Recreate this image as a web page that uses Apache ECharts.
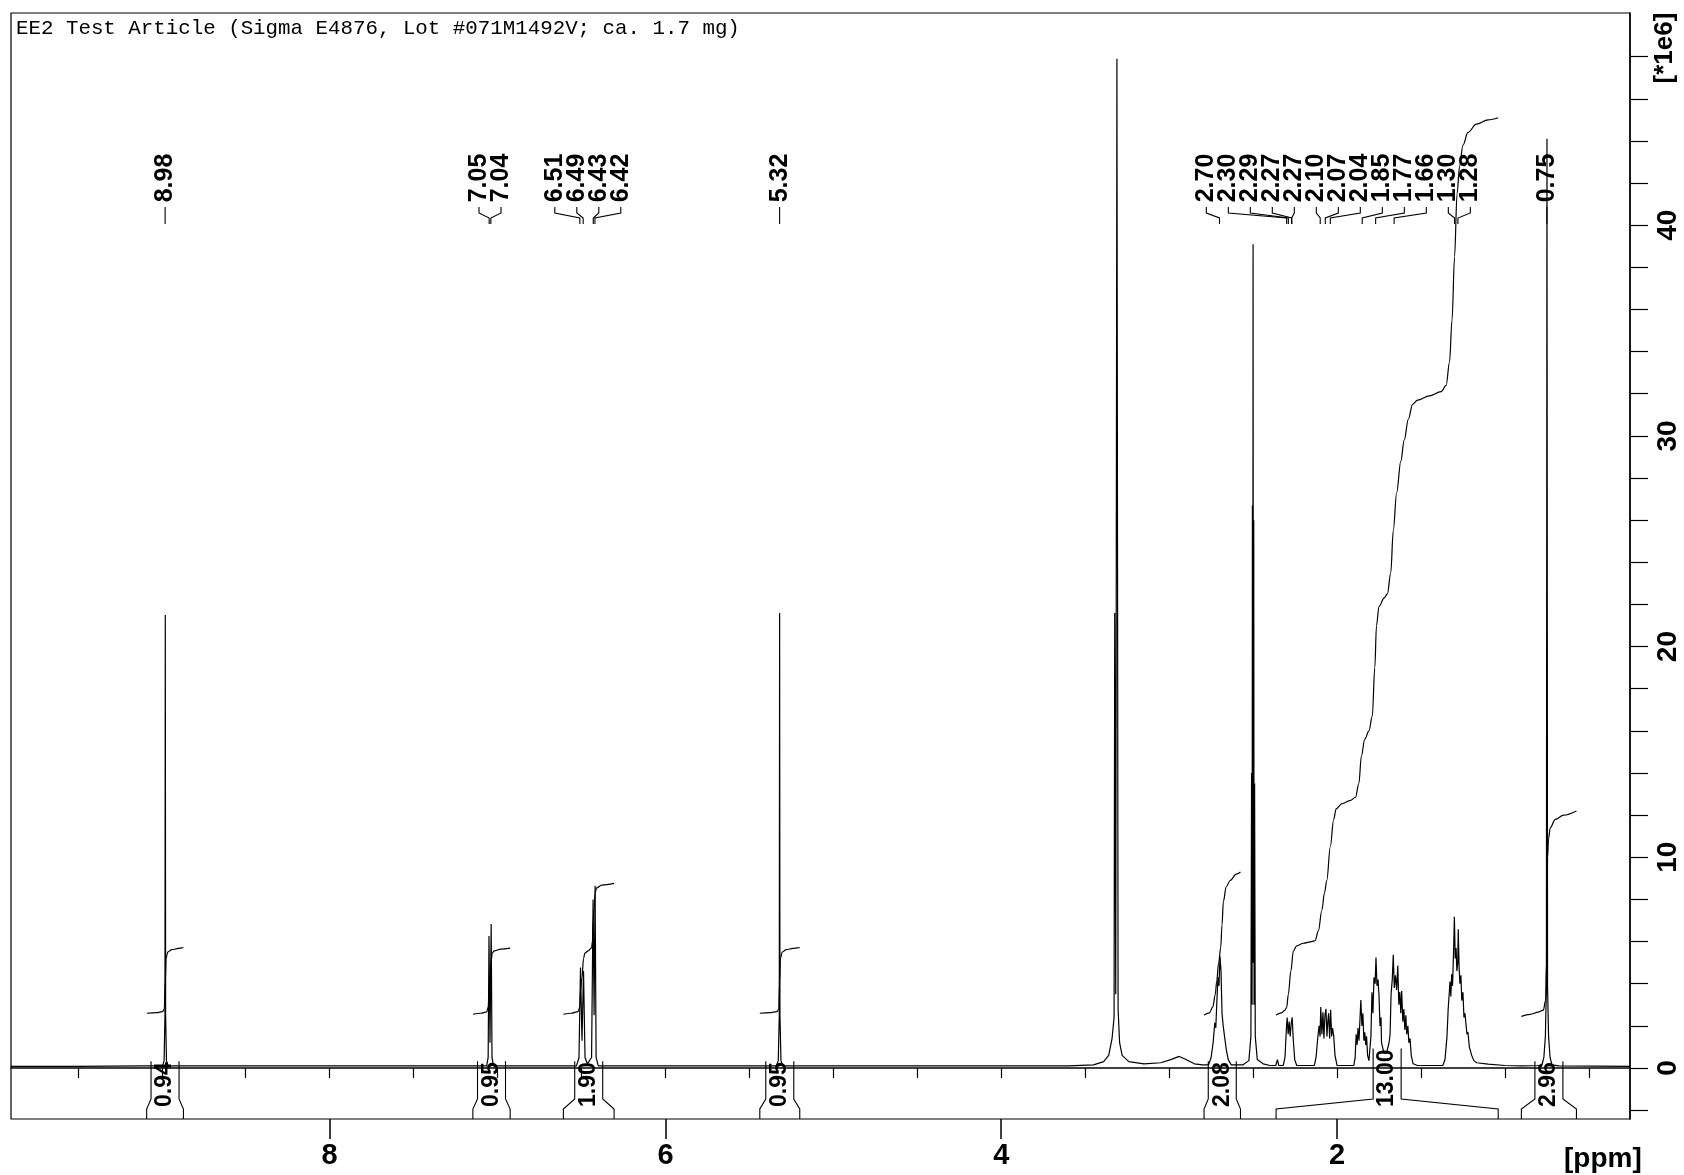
<!DOCTYPE html>
<html><head><meta charset="utf-8">
<script src="https://cdn.jsdelivr.net/npm/echarts@6/dist/echarts.min.js"></script>
<style>html,body{margin:0;padding:0;background:#fff}#c{width:1684px;height:1175px}</style>
</head><body><div id="c"></div><script>
// ---------------- data ----------------
const titleText = 'EE2 Test Article (Sigma E4876, Lot #071M1492V; ca. 1.7 mg)';
const xLabelValues = [2, 4, 6, 8];
const xTickValues = [0.5,1,1.5,2,2.5,3,3.5,4,4.5,5,5.5,6,6.5,7,7.5,8,8.5,9,9.5];
const yLabelValues = [0, 10, 20, 30, 40];
const yTickValues = [-2,0,2,4,6,8,10,12,14,16,18,20,22,24,26,28,30,32,34,36,38,40,42,44,46,48];
const xUnit = '[ppm]';
const yUnit = '[*1e6]';

// spectrum [ppm, intensity (*1e6)]
const spectrum = [
 [9.898,0.08],[9.5,0.08],[9.1,0.1],[8.995,0.1],[8.986,0.35],[8.981,2.5],[8.979,21.5],[8.977,2.5],[8.972,0.35],[8.962,0.1],
 [7.2,0.1],[7.065,0.1],[7.056,0.5],[7.051,6.27],[7.045,1.2],[7.038,6.83],[7.033,0.5],[7.024,0.1],
 [6.53,0.1],[6.515,0.5],[6.506,4.77],[6.497,1.3],[6.488,4.6],[6.479,0.5],[6.465,0.2],[6.44,0.5],[6.431,8.0],[6.425,2.5],[6.419,8.65],[6.413,0.5],[6.40,0.1],
 [5.34,0.1],[5.328,0.35],[5.322,2.5],[5.32,21.6],[5.318,2.5],[5.312,0.35],[5.30,0.1],
 [3.6,0.1],[3.45,0.15],[3.39,0.3],[3.36,0.6],[3.34,1.4],[3.328,2.4],[3.324,21.6],[3.318,3.5],[3.311,47.9],[3.304,2.8],[3.295,1.2],[3.28,0.6],[3.24,0.3],[3.15,0.2],[3.05,0.25],[2.99,0.4],[2.94,0.55],[2.90,0.4],[2.85,0.2],[2.80,0.15],
 [2.765,0.15],[2.75,0.5],[2.738,1.2],[2.728,2.15],[2.722,1.9],[2.715,3.3],[2.709,4.3],[2.703,3.9],[2.697,5.3],[2.691,4.6],[2.685,2.6],[2.678,2.0],[2.67,1.5],[2.66,0.9],[2.648,0.4],[2.63,0.15],
 [2.56,0.15],[2.525,0.35],[2.513,1.5],[2.509,14.0],[2.506,3],[2.504,26.7],[2.502,5],[2.500,39.1],[2.498,5],[2.496,26.0],[2.494,3],[2.491,13.5],[2.487,1.5],[2.475,0.4],[2.44,0.2],[2.40,0.12],
 [2.365,0.12],[2.355,0.4],[2.347,0.12],
 [2.32,0.12],[2.31,0.5],[2.302,1.8],[2.297,2.4],[2.291,1.6],[2.285,2.2],[2.279,1.5],[2.273,2.1],[2.267,2.4],[2.261,1.4],[2.252,0.4],[2.24,0.12],
 [2.135,0.12],[2.125,0.5],[2.115,1.4],[2.107,2.0],[2.101,1.5],[2.097,2.9],[2.09,1.6],[2.084,2.65],[2.078,1.4],[2.072,2.5],[2.066,2.81],[2.06,1.5],[2.055,2.2],[2.05,2.6],[2.044,1.4],[2.038,2.76],[2.032,1.5],[2.027,1.9],[2.02,1.55],[2.012,0.6],[2.0,0.12],
 [1.90,0.12],[1.892,0.5],[1.886,1.6],[1.88,1.1],[1.875,1.9],[1.869,1.3],[1.864,2.2],[1.858,3.23],[1.852,2.0],[1.846,2.6],[1.84,1.3],[1.835,1.7],[1.829,1.1],[1.824,1.5],[1.818,0.6],[1.81,0.35],
 [1.806,0.4],[1.798,1.5],[1.792,3.6],[1.786,2.6],[1.78,4.3],[1.773,4.0],[1.768,5.24],[1.762,3.9],[1.756,4.2],[1.75,3.45],[1.744,2.0],[1.738,2.4],[1.735,1.2],[1.72,0.7],[1.705,0.7],[1.69,1.2],
 [1.684,1.6],[1.678,3.5],[1.671,4.2],[1.665,5.37],[1.659,3.8],[1.652,4.4],[1.645,3.7],[1.638,4.86],[1.632,3.0],[1.626,3.6],[1.62,2.6],[1.615,3.65],[1.608,2.2],[1.602,2.8],[1.596,1.8],[1.59,2.5],[1.585,1.6],[1.578,2.0],[1.572,1.2],[1.565,1.4],[1.558,0.6],[1.547,0.2],[1.52,0.12],
 [1.37,0.12],[1.357,0.4],[1.345,1.5],[1.338,2.8],[1.332,3.5],[1.327,4.1],[1.322,3.4],[1.317,4.45],[1.312,3.9],[1.306,5.5],[1.301,7.18],[1.296,5.2],[1.291,5.7],[1.286,4.6],[1.281,5.0],[1.278,6.59],[1.273,4.8],[1.268,4.0],[1.262,4.4],[1.257,3.2],[1.25,3.6],[1.244,2.4],[1.238,2.6],[1.232,2.08],[1.226,1.6],[1.22,1.7],[1.212,1.0],[1.198,0.6],[1.185,0.35],[1.168,0.25],[1.10,0.18],[1.0,0.12],[0.90,0.1],
 [0.78,0.12],[0.768,0.5],[0.759,1.5],[0.753,3.8],[0.7495,44.1],[0.746,3.8],[0.74,1.5],[0.731,0.5],[0.72,0.15],[0.68,0.1],[0.255,0.08]
];

// integral curves [ppm, value on same axis]
const integralA = [[9.089,2.60],[9.03,2.63],[8.995,2.68],[8.985,2.8],[8.979,4.1],[8.974,5.2],[8.965,5.5],[8.94,5.62],[8.90,5.68],[8.871,5.72]];
const integralB = [[7.147,2.55],[7.10,2.60],[7.065,2.66],[7.055,2.9],[7.051,3.8],[7.045,4.3],[7.038,5.1],[7.032,5.45],[7.02,5.56],[6.98,5.64],[6.925,5.69]];
const integralC = [[6.608,2.55],[6.56,2.6],[6.52,2.68],[6.51,2.9],[6.506,3.7],[6.497,4.3],[6.488,5.2],[6.48,5.45],[6.46,5.56],[6.44,5.7],[6.435,6.0],[6.431,7.0],[6.424,7.6],[6.419,8.3],[6.41,8.55],[6.38,8.68],[6.306,8.76]];
const integralD = [[5.438,2.60],[5.38,2.63],[5.335,2.68],[5.325,2.8],[5.32,4.1],[5.315,5.2],[5.305,5.5],[5.28,5.62],[5.24,5.68],[5.20,5.72]];
const integralE = [[2.792,2.52],[2.76,2.62],[2.74,2.9],[2.725,3.5],[2.717,4.1],[2.705,5.0],[2.693,5.7],[2.685,6.8],[2.677,7.9],[2.66,8.6],[2.637,8.9],[2.60,9.2],[2.575,9.3]];
const integralF = [[2.363,2.52],[2.33,2.62],[2.31,2.75],[2.30,2.87],[2.29,3.5],[2.275,4.6],[2.26,5.56],[2.24,5.8],[2.20,5.92],[2.15,6.0],[2.131,6.04],[2.111,6.51],[2.09,7.5],[2.075,8.3],[2.061,8.9],[2.04,10.5],[2.02,11.8],[2.005,12.3],[1.97,12.55],[1.92,12.7],[1.89,12.85],[1.87,13.5],[1.855,14.8],[1.835,15.6],[1.81,16.0],[1.79,16.7],[1.775,19.0],[1.765,21.0],[1.75,21.9],[1.72,22.3],[1.70,22.5],[1.68,23.5],[1.665,25.5],[1.645,27.3],[1.62,28.8],[1.60,29.8],[1.575,30.8],[1.55,31.5],[1.52,31.7],[1.45,31.9],[1.38,32.1],[1.35,32.4],[1.33,33.5],[1.315,35.5],[1.30,38.5],[1.285,41.5],[1.27,42.8],[1.25,43.8],[1.22,44.4],[1.17,44.8],[1.10,45.0],[1.04,45.1]];
const integralG = [[0.902,2.45],[0.85,2.55],[0.80,2.65],[0.771,2.75],[0.758,3.2],[0.752,5.0],[0.749,8.0],[0.746,10.0],[0.74,10.9],[0.73,11.4],[0.70,11.8],[0.65,12.0],[0.574,12.2]];

// integration regions
const integFrom = [9.09, 7.147, 6.608, 5.438, 2.792, 2.363, 0.902];
const integTo = [8.871, 6.925, 6.306, 5.20, 2.575, 1.04, 0.574];
const integLabels = ['0.94', '0.95', '1.90', '0.95', '2.08', '13.00', '2.96'];

// peak picking labels
const peakLabels = ['8.98','7.05','7.04','6.51','6.49','6.43','6.42','5.32','2.70','2.30','2.29','2.27','2.27','2.10','2.07','2.04','1.85','1.77','1.66','1.30','1.28','0.75'];

// ---------------- rendering ----------------
const peakValues = peakLabels.map(parseFloat);
const labelFont = 'bold 25px "Liberation Sans", Arial, sans-serif';
const intFont = 'bold 23px "Liberation Sans", Arial, sans-serif';
const axisFont = '"Liberation Sans Narrow", "Arial Narrow", "Liberation Sans", Arial, sans-serif';
const mctx = document.createElement('canvas').getContext('2d');
function textLen(t, font) { mctx.font = font; return mctx.measureText(t).width; }

function spread(xs, s) {
  let clusters = xs.map((x) => ({ n: 1, sum: x }));
  let changed = true;
  while (changed) {
    changed = false;
    for (let k = 0; k < clusters.length - 1; k++) {
      const a = clusters[k], b = clusters[k + 1];
      const aR = a.sum / a.n + (a.n - 1) * s / 2;
      const bL = b.sum / b.n - (b.n - 1) * s / 2;
      if (bL - aR < s) { a.n += b.n; a.sum += b.sum; clusters.splice(k + 1, 1); changed = true; break; }
    }
  }
  const out = [];
  clusters.forEach(c => { const m = c.sum / c.n; for (let j = 0; j < c.n; j++) out.push(m + (j - (c.n - 1) / 2) * s); });
  return out;
}

const black = '#000';
const integralSeries = [integralA, integralB, integralC, integralD, integralE, integralF, integralG].map(d => ({
  type: 'line', data: d, xAxisIndex: 0, yAxisIndex: 0, showSymbol: false, symbol: 'none',
  smooth: 0.35, smoothMonotone: 'x', lineStyle: { color: black, width: 1.2 }, silent: true, z: 3
}));

const chart = echarts.init(document.getElementById('c'), null, { renderer: 'canvas' });
chart.setOption({
  animation: false,
  backgroundColor: '#fff',
  grid: { left: 11, right: 54, top: 13, bottom: 56, show: true, borderColor: black, borderWidth: 1.2, backgroundColor: 'transparent' },
  xAxis: [
    { type: 'value', min: 0.255, max: 9.898, inverse: true, position: 'bottom',
      axisLine: { show: true, lineStyle: { color: black, width: 1.5 } },
      axisTick: { show: true, length: 10, customValues: xTickValues, lineStyle: { color: black, width: 1.2 } },
      axisLabel: { show: false }, splitLine: { show: false } },
    { type: 'value', min: 0.255, max: 9.898, inverse: true, position: 'bottom',
      axisLine: { show: false },
      axisTick: { show: true, length: 20, customValues: xLabelValues, lineStyle: { color: black, width: 1.5 } },
      axisLabel: { show: true, customValues: xLabelValues, margin: 22, color: black, fontFamily: axisFont, fontWeight: 'bold', fontSize: 29 },
      splitLine: { show: false } }
  ],
  yAxis: [
    { type: 'value', min: -2.42, max: 50.07, position: 'right',
      axisLine: { show: true, lineStyle: { color: black, width: 1.5 } },
      axisTick: { show: true, inside: false, length: 18, customValues: yTickValues, lineStyle: { color: black, width: 1.2 } },
      axisLabel: { show: true, customValues: yLabelValues, rotate: 90, margin: 24, color: black, fontFamily: axisFont, fontWeight: 'bold', fontSize: 28 },
      splitLine: { show: false } }
  ],
  graphic: [
    { type: 'text', left: 16, top: 18, style: { text: titleText, font: '20.8px "Liberation Mono", "Courier New", monospace', fill: black } },
    { type: 'text', left: 1564, top: 1145, style: { text: xUnit, font: 'bold 28px ' + axisFont, fill: black } },
    { type: 'text', x: 1665, y: 48, rotation: Math.PI / 2, style: { text: yUnit, font: 'bold 26px ' + axisFont, fill: black, align: 'center', verticalAlign: 'middle' } }
  ],
  series: [
    { type: 'line', data: spectrum, xAxisIndex: 0, yAxisIndex: 0, showSymbol: false, symbol: 'none',
      lineStyle: { color: black, width: 1.2 }, silent: true, z: 2, clip: true },
    ...integralSeries,
    { type: 'custom', xAxisIndex: 0, yAxisIndex: 0, silent: true, z: 4,
      data: integFrom.map((f, i) => [f, integTo[i], i, 0]),
      encode: { x: [0, 1], y: 3 },
      renderItem: function (params, api) {
        const xf = api.coord([api.value(0), 0])[0];
        const xt = api.coord([api.value(1), 0])[0];
        const i = api.value(2);
        const cs = params.coordSys;
        const yB = cs.y + cs.height;
        const xc = (xf + xt) / 2, hw = 14;
        const y1 = yB - 10, y2 = yB - 20;
        const lbl = integLabels[i];
        const L = textLen(lbl, intFont);
        const yTB = yB - 12;
        const top = yTB - L - 1;
        const st = { stroke: black, fill: null, lineWidth: 1.1 };
        return { type: 'group', children: [
          { type: 'polyline', shape: { points: [[xf, yB], [xf, y1], [xc - hw, y2], [xc - hw, top]] }, style: st },
          { type: 'polyline', shape: { points: [[xt, yB], [xt, y1], [xc + hw, y2], [xc + hw, top]] }, style: st },
          { type: 'text', x: xc, y: yTB - L / 2, rotation: Math.PI / 2, style: { text: lbl, font: intFont, fill: black, align: 'center', verticalAlign: 'middle' } }
        ] };
      }
    },
    { type: 'custom', xAxisIndex: 0, yAxisIndex: 0, silent: true, z: 4,
      data: peakValues.map((v, i) => [v, i]),
      encode: { x: 0, y: 1 },
      renderItem: function (params, api) {
        const i = api.value(1);
        const xs = peakValues.map(v => api.coord([v, 0])[0]);
        const lx = spread(xs, 22)[i];
        const px = xs[i];
        const t = params.coordSys.y;
        const st = { stroke: black, fill: null, lineWidth: 1.1 };
        return { type: 'group', children: [
          { type: 'text', x: lx, y: t + 165, rotation: Math.PI / 2, style: { text: peakLabels[i], font: labelFont, fill: black, align: 'center', verticalAlign: 'middle' } },
          { type: 'polyline', shape: { points: [[lx, t + 194], [lx, t + 200], [px, t + 205], [px, t + 211]] }, style: st }
        ] };
      }
    }
  ]
});
</script></body></html>
